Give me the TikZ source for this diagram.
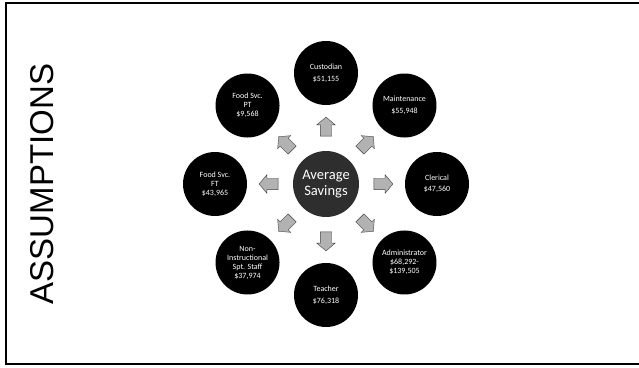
\documentclass[tikz,border=0pt]{standalone}
\usepackage{fontspec}
\setsansfont{Liberation Sans}
\newfontfamily\labelfont{Carlito}
\usetikzlibrary{shapes.arrows}

\begin{document}
\begin{tikzpicture}[x=1pt, y=1pt,
    job/.style={circle, fill=black, minimum size=64pt, inner sep=0pt, text=white, align=center,
        font=\labelfont\fontsize{8}{9}\selectfont},
    hub/.style={circle, fill=black!82, minimum size=66pt, inner sep=0pt, text=white, align=center,
        font=\labelfont\fontsize{14.5}{15.5}\selectfont},
    fwd/.style={single arrow, draw=black!75, fill=gray!60, minimum height=19pt, inner sep=5.5pt,
        single arrow head extend=3.5pt, single arrow tip angle=100}]

    \useasboundingbox (0,0) rectangle (639,367);
    \draw[line width=1.6pt] (6,3) rectangle (660,364);

    \node[rotate=90, font=\sffamily\fontsize{33}{33}\selectfont] (title) at (42,183) {ASSUMPTIONS};

    \node[hub] (savings) at (326,183) {Average\\Savings};

    % the eight jobs round the hub
    \foreach \a/\n/\t in {90/custodian/{Custodian\\[3pt]\$51,155},
                          45/maintenance/{Maintenance\\[3pt]\$55,948},
                          0/clerical/{Clerical\\[2pt]\$47,560},
                          -45/administrator/{Administrator\\\$68,292-\\\$139,505},
                          -90/teacher/{Teacher\\[3pt]\$76,318},
                          -135/nonins/{Non-\\Instructional\\Spt. Staff\\\$37,974},
                          180/foodft/{Food Svc.\\FT\\\$43,965},
                          135/foodpt/{Food Svc.\\PT\\\$9,568}}
    {
        \node[job] (\n) at ([shift={(\a:111pt)}]savings) {\t};
    }

    \foreach \a in {0,45,...,315}
    {
        \node[fwd, rotate=\a] (arrow\a) at ([shift={(\a:55pt)}]savings) {};
    }

\end{tikzpicture}
\end{document}
